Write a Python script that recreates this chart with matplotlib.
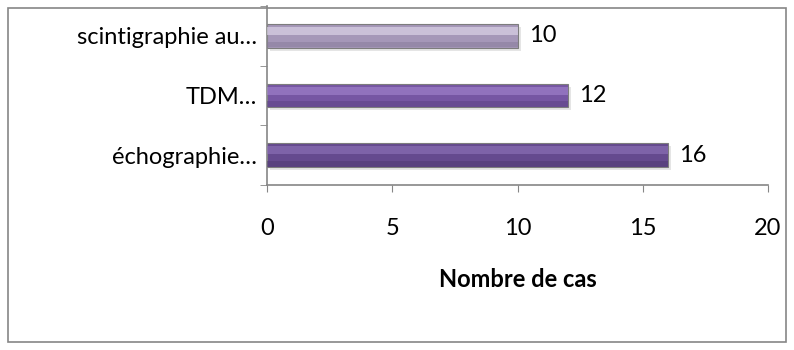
import numpy as np
import matplotlib.pyplot as plt
from matplotlib.patches import Rectangle

# data (bottom to top)
categories = ["échographie…", "TDM…", "scintigraphie au…"]
values = [16, 12, 10]
xticks = [0, 5, 10, 15, 20]

# bar colours: main, highlight, lower shade
main_cols = ["#654a8e", "#7656a3", "#a597b8"]
high_cols = ["#9074bb", "#a486d0", "#e4dcef"]
low_cols = ["#4f3a72", "#5b4283", "#877a99"]

plt.rcParams["font.family"] = ["Lato", "DejaVu Sans"]
grey = "#868686"
fs = 17

fig = plt.figure(figsize=(7.94, 3.5), dpi=100)
fig.patches.append(Rectangle((8 / 794, 8 / 350), 778 / 794, 334 / 350,
                             transform=fig.transFigure, fill=False,
                             edgecolor=grey, linewidth=1.2))

ax = fig.add_axes([267 / 794, 1 - 185 / 350, 501 / 794, 179 / 350])
y = np.arange(len(categories))
h = 0.4

# soft shadow
ax.barh(y - 0.05, values, height=h, left=0.12, color="#000000", alpha=0.10,
        zorder=1)
ax.barh(y, values, height=h, color=main_cols, edgecolor="#7d7d7d",
        linewidth=0.8, zorder=2)
# lower shade and upper highlight to mimic bevel
ax.barh(y - h * 0.36, values, height=h * 0.24, color=low_cols, alpha=0.5,
        linewidth=0, zorder=3)
ax.barh(y + h * 0.2, values, height=h * 0.34, color=high_cols, alpha=0.6,
        linewidth=0, zorder=3)

for yi, v in zip(y, values):
    ax.text(v + 0.45, yi, str(v), va="center", ha="left", fontsize=fs,
            color="black")

ax.set_xlim(0, 20)
ax.set_ylim(-0.5, len(categories) - 0.5)
ax.set_xticks(xticks)
ax.set_yticks(y)
ax.set_yticklabels(categories)
ax.set_yticks(np.arange(len(categories) + 1) - 0.5, minor=True)
ax.tick_params(axis="y", which="major", length=0, pad=7, labelsize=fs)
ax.tick_params(axis="y", which="minor", length=5, color=grey, direction="out")
ax.tick_params(axis="x", length=5, color=grey, pad=19, labelsize=fs)

for s in ["top", "right"]:
    ax.spines[s].set_visible(False)
for s in ["left", "bottom"]:
    ax.spines[s].set_color(grey)
    ax.spines[s].set_linewidth(1.2)

ax.set_xlabel("Nombre de cas", fontsize=fs, fontweight="bold", va="center")
ax.xaxis.set_label_coords(0.5, -0.53)

fig.savefig("out.png", dpi=100)
